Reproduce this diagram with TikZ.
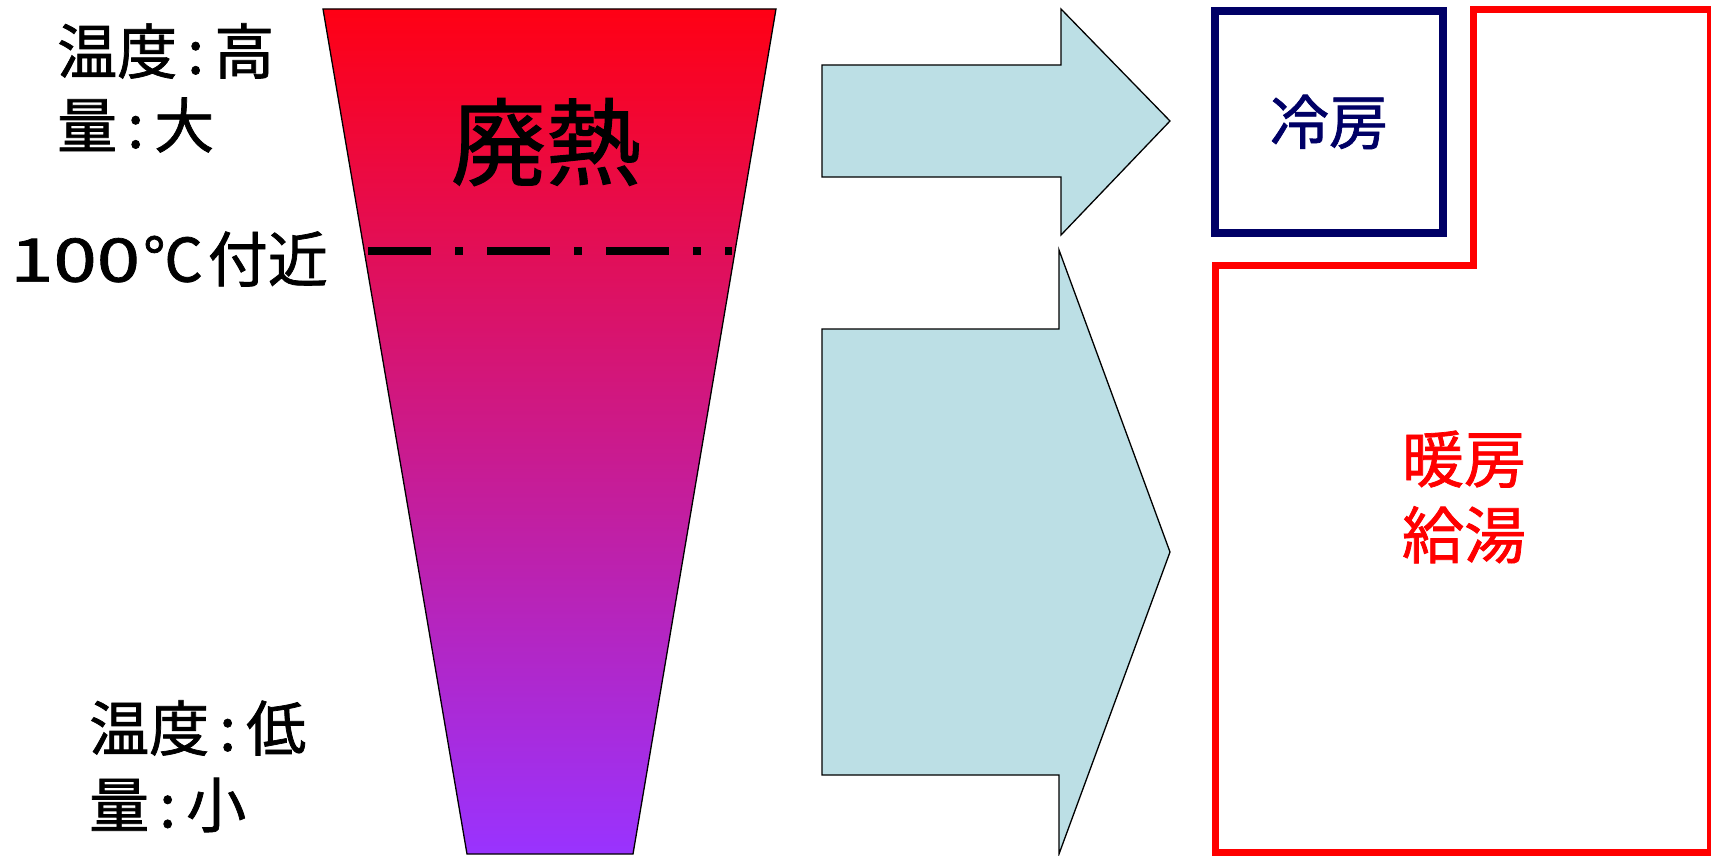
\documentclass[tikz,border=0pt]{standalone}
\usepackage{fontspec}
\setmainfont{Noto Sans CJK JP}[FakeBold=1.2]
\definecolor{heatTop}{RGB}{255,0,20}
\definecolor{heatBot}{RGB}{153,51,255}
\definecolor{arrowfill}{RGB}{188,223,229}
\definecolor{navyc}{RGB}{0,0,102}
\newcommand{\cln}{\kern0.17em:\kern0.17em}
\newcommand{\wdig}[1]{\scalebox{1.3}[1]{#1}}
\begin{document}
\begin{tikzpicture}[x=1pt,y=-1pt,
  lbl/.style={inner sep=0pt,anchor=west,font=\fontsize{60}{60}\selectfont},
  bigarrow/.style={draw=black,line width=1.3pt,fill=arrowfill,line join=miter},
  redline/.style={draw=red,line width=7pt},
]
\useasboundingbox[fill=white] (0,0) rectangle (1711,856);
% trapezoid
\path[top color=heatTop,bottom color=heatBot,draw=black,line width=1.3pt]
  (323,9) -- (776,9) -- (633,854) -- (467,854) -- cycle;
\node[font=\fontsize{95}{95}\selectfont,inner sep=0pt] (waste) at (546,142) {廃熱};
% dash-dot line
\coordinate (dl) at (368,251);
\coordinate (dr) at (732,251);
\draw[line width=7.6pt,dash pattern=on 63pt off 24pt on 8pt off 24pt] (dl) -- (dr);
% left labels
\node[lbl] (th) at (57,51) {温度\cln 高};
\node[lbl] (qh) at (57,125) {量\cln 大};
\node[lbl] (t100) at (10,259) {\wdig{1}\wdig{0}\wdig{0}\kern0.05em℃\kern0.08em付近};
\node[lbl] (tl) at (89,728) {温度\cln 低};
\node[lbl] (ql) at (89,805) {量\cln 小};
% arrows
\path[bigarrow] (822,65) -- (1061,65) -- (1061,9) -- (1170,121) -- (1061,235) -- (1061,177) -- (822,177) -- cycle;
\path[bigarrow] (822,329) -- (1059,329) -- (1059,250) -- (1170,552) -- (1059,854) -- (1059,775) -- (822,775) -- cycle;
% cooling box
\node[draw=navyc,line width=8pt,minimum width=228pt,minimum height=222pt,inner sep=0pt,
  text=navyc,font=\fontsize{59}{59}\selectfont] (cool) at (1329,122) {冷房};
% heating outline
\draw[redline] (1215,856) -- (1215,265) -- (1473,265) -- (1473,10) -- (1710,10) -- (1710,852) -- (1215,852);
\node[text=red,font=\fontsize{62}{76}\selectfont,align=center,inner sep=0pt] (heat) at (1464,497) {暖房\\給湯};
\end{tikzpicture}
\end{document}
